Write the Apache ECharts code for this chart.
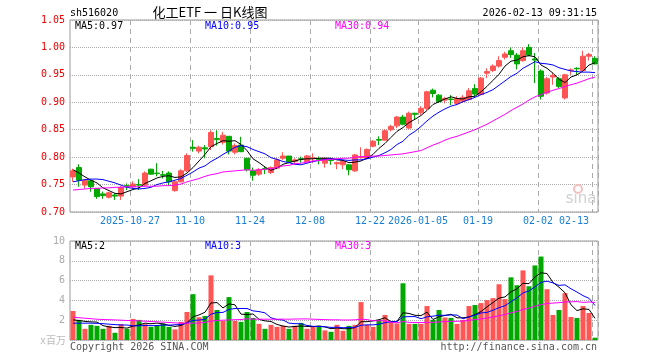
<!DOCTYPE html>
<html><head><meta charset="utf-8">
<script src="https://cdn.jsdelivr.net/npm/echarts@6/dist/echarts.min.js"></script>
<style>html,body{margin:0;padding:0;background:#fff}#c{width:660px;height:360px}</style>
</head><body><div id="c"></div>
<script>
const dates = [
'2025-10-13','2025-10-14','2025-10-15','2025-10-16','2025-10-17','2025-10-20','2025-10-21','2025-10-22','2025-10-23','2025-10-24',
'2025-10-27','2025-10-28','2025-10-29','2025-10-30','2025-10-31','2025-11-03','2025-11-04','2025-11-05','2025-11-06','2025-11-07',
'2025-11-10','2025-11-11','2025-11-12','2025-11-13','2025-11-14','2025-11-17','2025-11-18','2025-11-19','2025-11-20','2025-11-21',
'2025-11-24','2025-11-25','2025-11-26','2025-11-27','2025-11-28','2025-12-01','2025-12-02','2025-12-03','2025-12-04','2025-12-05',
'2025-12-08','2025-12-09','2025-12-10','2025-12-11','2025-12-12','2025-12-15','2025-12-16','2025-12-17','2025-12-18','2025-12-19',
'2025-12-22','2025-12-23','2025-12-24','2025-12-25','2025-12-26','2025-12-29','2025-12-30','2025-12-31','2026-01-05','2026-01-06',
'2026-01-07','2026-01-08','2026-01-09','2026-01-12','2026-01-13','2026-01-14','2026-01-15','2026-01-16','2026-01-19','2026-01-20',
'2026-01-21','2026-01-22','2026-01-23','2026-01-26','2026-01-27','2026-01-28','2026-01-29','2026-01-30','2026-02-02','2026-02-03',
'2026-02-04','2026-02-05','2026-02-06','2026-02-09','2026-02-10','2026-02-11','2026-02-12','2026-02-13'];

const tickDates  = ['2025-10-27','2025-11-10','2025-11-24','2025-12-08','2025-12-22','2026-01-05','2026-01-19','2026-02-02','2026-02-13'];
const tickLabels = ['2025-10-27','11-10','11-24','12-08','12-22','2026-01-05','01-19','02-02','02-13'];

const open = [0.764,0.781,0.749,0.757,0.743,0.733,0.727,0.731,0.729,0.748, 0.746,0.750,0.749,0.778,0.771,0.768,0.771,0.739,0.755,0.775,
 0.818,0.811,0.817,0.819,0.834,0.827,0.838,0.809,0.822,0.798, 0.775,0.769,0.779,0.772,0.780,0.798,0.802,0.792,0.797,0.792,
 0.798,0.797,0.789,0.795,0.788,0.786,0.786,0.775,0.799,0.798, 0.820,0.832,0.831,0.850,0.857,0.873,0.853,0.880,0.881,0.889,
 0.922,0.913,0.904,0.906,0.898,0.902,0.905,0.925,0.914,0.953, 0.958,0.966,0.982,0.994,0.986,0.976,1.000,0.979,0.957,0.917,
 0.946,0.943,0.908,0.958,0.962,0.958,0.984,0.980];
const close = [0.775,0.758,0.758,0.746,0.728,0.730,0.735,0.729,0.745,0.746, 0.751,0.749,0.771,0.769,0.770,0.767,0.755,0.755,0.775,0.803,
 0.816,0.818,0.815,0.845,0.832,0.840,0.811,0.821,0.810,0.777, 0.767,0.777,0.778,0.781,0.795,0.802,0.792,0.795,0.796,0.802,
 0.799,0.796,0.798,0.794,0.790,0.792,0.777,0.804,0.801,0.814, 0.829,0.831,0.848,0.856,0.873,0.860,0.880,0.878,0.889,0.919,
 0.916,0.901,0.907,0.905,0.907,0.909,0.921,0.915,0.944,0.956, 0.966,0.976,0.988,0.987,0.970,0.994,0.986,0.977,0.911,0.943,
 0.949,0.929,0.950,0.959,0.961,0.984,0.987,0.970];
const low = [0.755,0.746,0.743,0.737,0.724,0.724,0.725,0.722,0.722,0.740, 0.744,0.740,0.746,0.768,0.765,0.761,0.748,0.737,0.754,0.773,
 0.810,0.807,0.798,0.813,0.821,0.823,0.805,0.805,0.809,0.774, 0.757,0.766,0.769,0.769,0.778,0.795,0.789,0.787,0.790,0.790,
 0.789,0.787,0.781,0.786,0.778,0.778,0.767,0.773,0.797,0.796, 0.818,0.822,0.830,0.847,0.853,0.858,0.851,0.868,0.877,0.886,
 0.909,0.899,0.898,0.895,0.895,0.899,0.903,0.911,0.913,0.944, 0.955,0.963,0.978,0.981,0.960,0.974,0.984,0.935,0.905,0.914,
 0.932,0.926,0.905,0.950,0.950,0.957,0.976,0.969];
const high = [0.779,0.787,0.760,0.759,0.744,0.737,0.737,0.734,0.747,0.752, 0.756,0.760,0.774,0.779,0.789,0.775,0.774,0.758,0.778,0.807,
 0.831,0.821,0.822,0.849,0.849,0.846,0.838,0.825,0.837,0.798, 0.781,0.780,0.783,0.783,0.798,0.809,0.802,0.798,0.801,0.804,
 0.807,0.801,0.798,0.798,0.792,0.795,0.787,0.806,0.818,0.816, 0.831,0.838,0.851,0.859,0.875,0.877,0.883,0.881,0.893,0.921,
 0.925,0.915,0.910,0.913,0.911,0.913,0.926,0.933,0.946,0.962, 0.969,0.984,0.992,1.000,0.990,1.000,1.006,0.990,0.960,0.946,
 0.953,0.946,0.952,0.962,0.964,0.994,0.990,0.984];

const ma5 = [0.777,0.771,0.764,0.758,0.753,0.744,0.739,0.734,0.733,0.737, 0.741,0.744,0.752,0.757,0.762,0.765,0.766,0.763,0.764,0.771,
 0.781,0.793,0.805,0.819,0.825,0.830,0.829,0.830,0.823,0.812, 0.797,0.790,0.782,0.776,0.780,0.787,0.790,0.793,0.796,0.797,
 0.797,0.798,0.798,0.798,0.795,0.794,0.790,0.791,0.793,0.798, 0.805,0.816,0.825,0.836,0.847,0.854,0.863,0.869,0.876,0.885,
 0.896,0.901,0.906,0.910,0.907,0.906,0.910,0.911,0.919,0.929, 0.940,0.951,0.966,0.975,0.977,0.983,0.985,0.983,0.968,0.962,
 0.953,0.942,0.936,0.946,0.950,0.957,0.968,0.972];
const ma10 = [0.755,0.757,0.759,0.760,0.760,0.759,0.756,0.753,0.749,0.745, 0.743,0.742,0.743,0.745,0.750,0.753,0.755,0.758,0.761,0.767,
 0.773,0.780,0.784,0.792,0.798,0.805,0.811,0.818,0.821,0.819, 0.814,0.810,0.806,0.799,0.796,0.792,0.790,0.787,0.786,0.789,
 0.792,0.794,0.796,0.797,0.796,0.795,0.794,0.795,0.795,0.797, 0.800,0.803,0.808,0.814,0.823,0.829,0.840,0.847,0.856,0.866,
 0.875,0.882,0.888,0.893,0.896,0.901,0.905,0.909,0.914,0.918, 0.923,0.931,0.939,0.947,0.953,0.962,0.968,0.974,0.971,0.970,
 0.968,0.963,0.960,0.957,0.956,0.955,0.955,0.954];
const ma30 = [0.740,0.741,0.742,0.743,0.743,0.744,0.744,0.745,0.745,0.746, 0.746,0.746,0.747,0.747,0.747,0.748,0.748,0.749,0.751,0.755,
 0.758,0.761,0.765,0.768,0.770,0.773,0.774,0.775,0.776,0.777, 0.776,0.777,0.778,0.779,0.781,0.784,0.785,0.788,0.789,0.791,
 0.793,0.794,0.795,0.796,0.797,0.798,0.798,0.800,0.801,0.801, 0.802,0.802,0.803,0.804,0.805,0.806,0.808,0.810,0.812,0.817,
 0.822,0.826,0.831,0.835,0.838,0.842,0.846,0.850,0.855,0.860, 0.866,0.872,0.878,0.885,0.891,0.897,0.904,0.910,0.914,0.918,
 0.922,0.925,0.929,0.932,0.935,0.939,0.943,0.946];

const vol = [2.93,2.03,1.13,1.53,1.43,1.13,1.43,0.73,1.60,1.13, 2.13,2.03,1.60,1.33,1.47,1.67,1.33,1.07,1.83,2.83,
 4.63,2.30,2.43,6.53,3.03,1.93,4.33,1.93,1.83,2.83, 2.23,1.63,1.13,1.53,1.33,1.43,1.13,1.43,1.73,1.13,
 1.33,1.43,0.97,0.83,1.53,0.93,1.43,1.53,3.83,1.53, 1.33,2.03,2.53,1.83,1.67,5.73,1.63,1.63,1.63,3.43,
 2.03,3.03,2.27,2.23,1.63,2.03,3.43,3.53,3.73,4.03, 4.23,5.63,4.13,6.33,5.53,7.03,5.43,7.53,8.43,5.13,
 2.53,3.03,4.73,2.33,2.23,3.43,2.73,0.23];
const vma5 = [2.03,1.97,1.88,1.83,1.81,1.45,1.33,1.25,1.26,1.20, 1.40,1.52,1.70,1.64,1.71,1.62,1.48,1.37,1.47,1.75,
 2.34,2.53,2.80,3.74,3.78,3.24,3.65,3.55,2.61,2.57, 2.63,2.09,1.93,1.87,1.57,1.41,1.31,1.37,1.41,1.37,
 1.35,1.41,1.32,1.14,1.22,1.14,1.14,1.25,1.85,1.85, 1.93,2.05,2.25,1.85,1.88,2.76,2.68,2.50,2.46,2.81,
 2.07,2.35,2.48,2.60,2.24,2.24,2.32,2.57,2.87,3.35, 3.79,4.23,4.35,4.87,5.17,5.73,5.69,6.37,6.79,6.71,
 5.81,5.33,4.77,3.55,2.97,3.15,3.09,2.19];
const vma10 = [1.70,1.70,1.70,1.70,1.68,1.65,1.60,1.55,1.52,1.51, 1.43,1.43,1.47,1.45,1.46,1.51,1.50,1.54,1.56,1.73,
 1.98,2.01,2.09,2.61,2.77,2.79,3.09,3.18,3.18,3.18, 2.94,2.87,2.74,2.24,2.07,2.02,1.70,1.65,1.64,1.47,
 1.38,1.36,1.34,1.27,1.29,1.24,1.27,1.28,1.49,1.53, 1.53,1.59,1.75,1.85,1.86,2.34,2.36,2.37,2.15,2.34,
 2.41,2.51,2.49,2.53,2.52,2.15,2.33,2.52,2.73,2.79, 3.01,3.27,3.46,3.87,4.26,4.76,4.96,5.36,5.83,5.94,
 5.77,5.51,5.57,5.17,4.84,4.48,4.21,3.48];
const vma30 = [2.30,2.25,2.20,2.15,2.10,2.07,2.05,2.03,2.00,1.97, 1.95,1.93,1.90,1.87,1.84,1.80,1.77,1.73,1.70,1.70,
 1.70,1.72,1.78,1.90,1.98,2.00,2.03,2.05,2.07,2.14, 2.11,2.10,2.10,2.10,2.10,2.11,2.10,2.12,2.13,2.13,
 2.10,2.08,2.06,2.04,2.04,2.02,2.02,2.04,2.10,2.06, 1.95,1.94,1.95,1.79,1.74,1.87,1.78,1.77,1.76,1.78,
 1.78,1.82,1.86,1.88,1.89,1.91,1.99,2.06,2.13,2.22, 2.32,2.46,2.57,2.75,2.88,3.09,3.22,3.42,3.57,3.69,
 3.73,3.77,3.84,3.86,3.88,3.80,3.84,3.79];

const UP = '#ff5555', DOWN = '#00a800';
const MONO = "'DejaVu Sans Mono', 'Liberation Mono', monospace";
const tickIdx = tickDates.map(d => dates.indexOf(d));
const isTick = (i) => tickIdx.indexOf(i) >= 0;
const candles = dates.map((d, i) => [open[i], close[i], low[i], high[i]]);
const volData = vol.map((v, i) => ({ value: v, itemStyle: { color: close[i] >= open[i] ? UP : DOWN } }));

const vSplit = { show: true, interval: (i) => isTick(i), lineStyle: { color: '#aaa', type: [5, 4], width: 1 } };
const hSplit = { show: true, lineStyle: { color: '#aaa', type: [1, 1], width: 1 } };

function lineSeries(data, color, xi, yi) {
  return { type: 'line', xAxisIndex: xi, yAxisIndex: yi, data: data, symbol: 'none', showSymbol: false,
    silent: true, lineStyle: { width: 1, color: color }, itemStyle: { color: color }, z: 5 };
}
function txt(text, x, y, color, size, align, family) {
  return { type: 'text', x: x, y: y, silent: true, z: 100,
    style: { text: text, fill: color, font: size + 'px ' + (family || MONO), align: align || 'left', verticalAlign: 'middle',
      textAlign: align || 'left', textVerticalAlign: 'middle' } };
}

const chart = echarts.init(document.getElementById('c'), null, { renderer: 'canvas' });
chart.setOption({
  animation: false,
  backgroundColor: '#fff',
  grid: [
    { left: 70, top: 20, width: 528, height: 192, show: true, borderColor: '#999', borderWidth: 1 },
    { left: 70, top: 241, width: 528, height: 99, show: true, borderColor: '#999', borderWidth: 1 }
  ],
  xAxis: [
    { type: 'category', gridIndex: 0, data: dates, boundaryGap: true,
      axisLine: { show: false }, axisTick: { show: false },
      axisLabel: { interval: (i) => isTick(i), formatter: (v, i) => tickLabels[tickIdx.indexOf(i)],
        color: '#1a7fd4', fontFamily: MONO, fontSize: 10, margin: 4, padding: [0, 6, 0, 0], alignMaxLabel: 'right',
        hideOverlap: false },
      splitLine: vSplit },
    { type: 'category', gridIndex: 1, data: dates, boundaryGap: true,
      axisLine: { show: false }, axisTick: { show: false }, axisLabel: { show: false },
      splitLine: vSplit }
  ],
  yAxis: [
    { type: 'value', gridIndex: 0, min: 0.70, max: 1.05, interval: 0.05, scale: true,
      axisLine: { show: false }, axisTick: { show: false },
      axisLabel: { color: '#ee0000', fontFamily: MONO, fontSize: 10, margin: 5, formatter: (v) => v.toFixed(2) },
      splitLine: hSplit },
    { type: 'value', gridIndex: 1, min: 0, max: 10, interval: 2,
      axisLine: { show: false }, axisTick: { show: false },
      axisLabel: { color: '#aaa', fontFamily: MONO, fontSize: 10, margin: 5, formatter: (v) => v === 0 ? '' : String(v) },
      splitLine: hSplit }
  ],
  series: [
    { type: 'candlestick', xAxisIndex: 0, yAxisIndex: 0, data: candles, barWidth: 5, silent: true,
      itemStyle: { color: UP, color0: DOWN, borderColor: UP, borderColor0: DOWN, borderWidth: 1 } },
    lineSeries(ma5, '#000000', 0, 0),
    lineSeries(ma10, '#0000ff', 0, 0),
    lineSeries(ma30, '#ff00ff', 0, 0),
    { type: 'bar', xAxisIndex: 1, yAxisIndex: 1, data: volData, barWidth: 5, silent: true },
    lineSeries(vma5, '#000000', 1, 1),
    lineSeries(vma10, '#0000ff', 1, 1),
    lineSeries(vma30, '#ff00ff', 1, 1)
  ],
  graphic: [
    txt('sh516020', 70, 13, '#000', 10),
    txt('化工ETF 一 日K线图', 210, 12, '#000', 13, 'center', "'Noto Sans CJK SC', sans-serif"),
    txt('2026-02-13 09:31:15', 597, 13, '#000', 10, 'right'),
    txt('MA5:0.97', 75, 26, '#000', 10),
    txt('MA10:0.95', 205, 26, '#0000ff', 10),
    txt('MA30:0.94', 335, 26, '#ff00ff', 10),
    txt('MA5:2', 75, 246, '#000', 10),
    txt('MA10:3', 205, 246, '#0000ff', 10),
    txt('MA30:3', 335, 246, '#ff00ff', 10),
    txt('x百万', 66, 341, '#bbb', 10, 'right', "'DejaVu Sans Mono', 'Noto Sans CJK SC', monospace"),
    txt('Copyright 2026 SINA.COM', 70, 347, '#555', 10),
    txt('http://finance.sina.com.cn', 597, 347, '#555', 10, 'right'),
    { type: 'circle', silent: true, z: 1, shape: { cx: 578, cy: 189, r: 4 },
      style: { fill: 'none', stroke: '#f3c0c0', lineWidth: 2 } },
    txt('sina', 581, 199, '#d0d0d0', 15, 'center', "'DejaVu Sans', sans-serif")
  ]
});
</script>
</body></html>
